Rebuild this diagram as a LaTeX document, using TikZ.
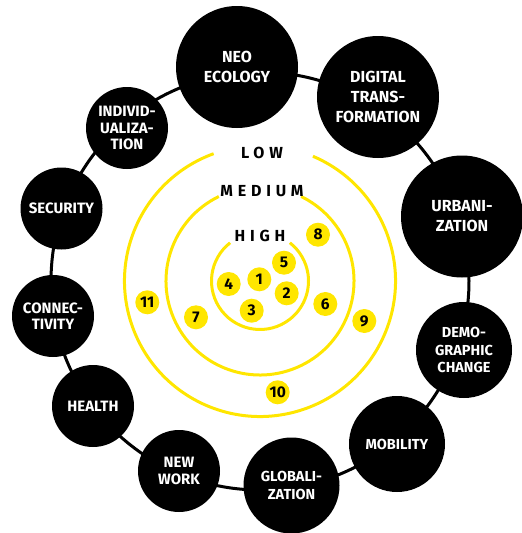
\documentclass[tikz,border=0pt]{standalone}
\usepackage{fontspec}
\setmainfont{Fira Sans}
\newfontfamily\levelfont[LetterSpace=30]{Fira Sans}
\usepackage{xcolor}
\usepackage{tikz}
\usetikzlibrary{shapes,positioning}
\definecolor{trendyellow}{HTML}{FFE600}

\begin{document}
\begin{tikzpicture}[x=1pt,y=1pt]
\tikzstyle{big}=[circle,fill=black,text=white,inner sep=0pt,minimum size=122pt,align=center,font=\bfseries\fontsize{16}{20}\selectfont]
\tikzstyle{medium}=[big,minimum size=96pt,font=\bfseries\fontsize{14.5}{17.5}\selectfont]
\tikzstyle{small}=[big,minimum size=82pt,font=\bfseries\fontsize{15}{16.5}\selectfont]
\tikzstyle{num}=[circle,fill=trendyellow,inner sep=0pt,minimum size=24pt,font=\bfseries\fontsize{15.5}{15.5}\selectfont]
\tikzstyle{level}=[inner sep=1pt,font=\levelfont\bfseries\fontsize{16}{16}\selectfont]
\useasboundingbox (0,0) rectangle (522,-533);
\coordinate (hub) at (260,-281);
% chain ring behind the trend circles
\draw[line width=3pt] (hub) circle (209);
% impact rings, open at the top for the labels
\foreach \r/\a/\b in {48.5/52/128, 94/64/116, 135.5/67/110}
  \draw[trendyellow,line width=3pt] (hub) ++(\b:\r) arc[start angle=\b,end angle=\a+360,radius=\r];
\node[level] (low) at (262,-153) {LOW};
\node[level] (med) at (262,-191) {MEDIUM};
\node[level] (high) at (260,-236) {HIGH};
% trends on the ring
\node[big] (neo) at (237,-67) {NEO\\ECOLOGY};
\node[big] (dig) at (378,-97) {DIGITAL\\TRANS-\\FORMATION};
\node[big] (urb) at (462,-216.5) {URBANI-\\ZATION};
\node[medium] (demo) at (464,-350) {DEMO-\\GRAPHIC\\CHANGE};
\node[medium] (mob) at (397,-444) {MOBILITY};
\node[medium] (glob) at (291.5,-485.5) {GLOBALI-\\ZATION};
\node[small] (nw) at (179,-471) {NEW\\WORK};
\node[small] (hea) at (93,-406) {HEALTH};
\node[small] (con) at (53,-316) {CONNEC-\\TIVITY};
\node[small] (sec) at (61.5,-208.5) {SECURITY};
\node[small] (ind) at (127,-128) {INDIVID-\\UALIZA-\\TION};
% numbered markers
\node[num] (n1) at (259.3,-279.3) {1};
\node[num] (n2) at (286.7,-293.3) {2};
\node[num] (n3) at (251.7,-310.7) {3};
\node[num] (n4) at (228.7,-284) {4};
\node[num] (n5) at (284,-262.7) {5};
\node[num] (n6) at (325.3,-304) {6};
\node[num] (n7) at (196,-317.3) {7};
\node[num] (n8) at (318,-234.7) {8};
\node[num] (n9) at (364.3,-321) {9};
\node[num] (n10) at (277.7,-392.3) {10};
\node[num] (n11) at (147.3,-302.3) {11};
\end{tikzpicture}
\end{document}
